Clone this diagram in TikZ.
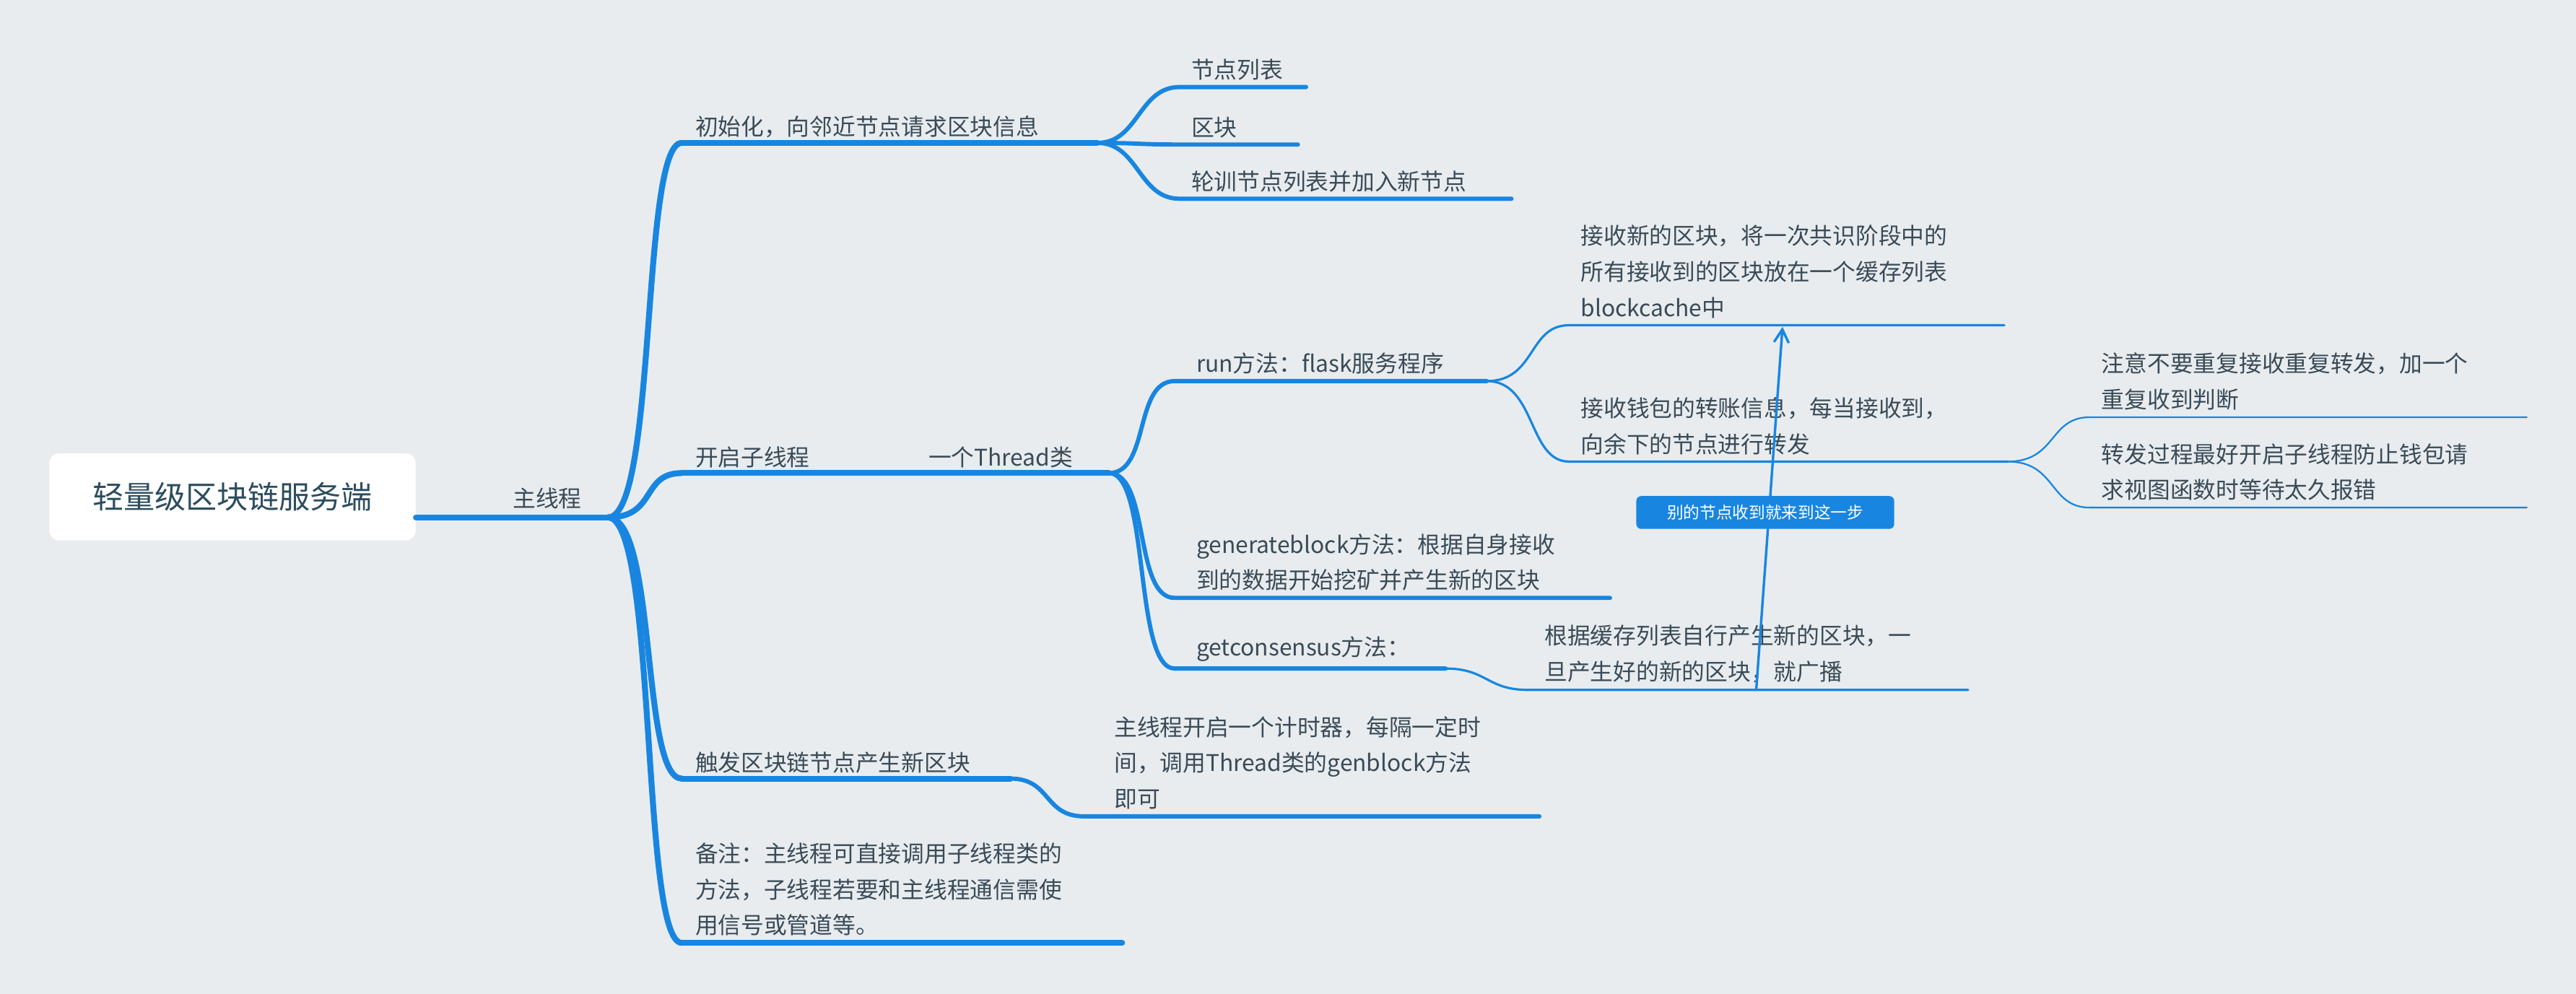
\documentclass[tikz,border=0pt]{standalone}
\usepackage{fontspec}
\usetikzlibrary{arrows.meta}
\setmainfont{Noto Sans CJK SC}
\definecolor{bg}{HTML}{E8ECEF}
\definecolor{ln}{HTML}{1886E0}
\definecolor{tx}{HTML}{3A4B57}
\definecolor{tt}{HTML}{2C4D5E}
\begin{document}
\begin{tikzpicture}[x=1bp,y=-1bp,
  lbl/.style={anchor=south west,inner sep=0pt,text=tx,align=left,font=\fontsize{14}{22}\selectfont},
  b1/.style={draw=ln,line width=3.6bp,line cap=round},
  b2/.style={draw=ln,line width=2.6bp,line cap=round},
  b3/.style={draw=ln,line width=1.4bp,line cap=round},
  b4/.style={draw=ln,line width=1bp,line cap=round}]
\fill[bg] (0,0) rectangle (1568,605);
\useasboundingbox (0,0) rectangle (1568,605);
% root
\node[fill=white,rounded corners=6bp,minimum width=223bp,minimum height=53bp,text=tt,font=\fontsize{19}{22}\selectfont] (root) at (141.5,302.5) {轻量级区块链服务端};
\coordinate (m) at (370,315);
\node[lbl] (main) at (312,310) {主线程};
\draw[b1] (root.east|-m) -- (m);
% level 1
\coordinate (a0) at (415,87);  \coordinate (a1) at (668,87);
\coordinate (c0) at (415,288); \coordinate (c1) at (675,288);
\coordinate (t0) at (415,474); \coordinate (t1) at (615,474);
\coordinate (n0) at (415,574); \coordinate (n1) at (683,574);
\foreach \p in {a0,c0,t0,n0}{
  \draw[b1] (m) .. controls +(30,0) and +(-25,0) .. (\p);}
\draw[b1] (a0)--(a1); \draw[b1] (c0)--(c1); \draw[b1] (t0)--(t1); \draw[b1] (n0)--(n1);
\node[lbl] (A) at (423,84) {初始化，向邻近节点请求区块信息};
\node[lbl] (C) at (423,285) {开启子线程};
\node[lbl] (C2) at (565,285) {一个Thread类};
\node[lbl] (T) at (423,471) {触发区块链节点产生新区块};
\node[lbl] (N) at (423,570) {备注：主线程可直接调用子线程类的\\方法，子线程若要和主线程通信需使\\用信号或管道等。};
% init children
\foreach \y/\e/\t/\nm in {53/795/节点列表/k1, 88/790/区块/k2, 121/920/轮训节点列表并加入新节点/k3}{
  \coordinate (\nm a) at (718,\y); \coordinate (\nm b) at (\e,\y);
  \draw[b2] (a1) .. controls +(25,0) and +(-25,0) .. (\nm a) -- (\nm b);
  \node[lbl] at (725,\y-4) {\t};}
% thread children
\coordinate (r0) at (715,232); \coordinate (r1) at (905,232);
\coordinate (g0) at (715,364); \coordinate (g1) at (980,364);
\coordinate (q0) at (715,407); \coordinate (q1) at (880,407);
\foreach \p/\e in {r0/r1,g0/g1,q0/q1}{
  \draw[b2] (c1) .. controls +(25,0) and +(-25,0) .. (\p) -- (\e);}
\node[lbl] (R) at (728,228) {run方法：flask服务程序};
\node[lbl] (G) at (728,360) {generateblock方法：根据自身接收\\到的数据开始挖矿并产生新的区块};
\node[lbl] (Q) at (728,403) {getconsensus方法：};
% run children
\coordinate (x0) at (955,198); \coordinate (x1) at (1220,198);
\coordinate (w0) at (955,281); \coordinate (w1) at (1222,281);
\draw[b3] (r1) .. controls +(30,0) and +(-25,0) .. (x0) -- (x1);
\draw[b3] (r1) .. controls +(30,0) and +(-25,0) .. (w0) -- (w1);
\node[lbl] (X) at (962,194) {接收新的区块，将一次共识阶段中的\\所有接收到的区块放在一个缓存列表\\blockcache中};
\node[lbl] (W) at (962,277) {接收钱包的转账信息，每当接收到，\\向余下的节点进行转发};
% wallet children
\coordinate (u0) at (1272,254); \coordinate (u1) at (1538,254);
\coordinate (v0) at (1272,309); \coordinate (v1) at (1538,309);
\draw[b4] (w1) .. controls +(30,0) and +(-25,0) .. (u0) -- (u1);
\draw[b4] (w1) .. controls +(30,0) and +(-25,0) .. (v0) -- (v1);
\node[lbl] (U) at (1279,250) {注意不要重复接收重复转发，加一个\\重复收到判断};
\node[lbl] (V) at (1279,305) {转发过程最好开启子线程防止钱包请\\求视图函数时等待太久报错};
% consensus child
\coordinate (h0) at (930,420); \coordinate (h1) at (1198,420);
\draw[b3] (q1) .. controls +(25,0) and +(-25,0) .. (h0) -- (h1);
\node[lbl] (H) at (940,416) {根据缓存列表自行产生新的区块，一\\旦产生好的新的区块，就广播};
% trigger child
\coordinate (p0) at (660,497); \coordinate (p1) at (937,497);
\draw[b2] (t1) .. controls +(25,0) and +(-25,0) .. (p0) -- (p1);
\node[lbl] (P) at (678,493) {主线程开启一个计时器，每隔一定时\\间，调用Thread类的genblock方法\\即可};
% arrow
\coordinate (ab) at (1069,420); \coordinate (at) at (1085,199);
\draw[ln,line width=1.5bp,-{Straight Barb[length=8bp,width=9bp]}] (ab) -- (at);
\node[fill=ln,rounded corners=3bp,text=white,font=\fontsize{10}{12}\selectfont,minimum width=157bp,minimum height=20bp,inner sep=0pt] (note) at (1074.5,312) {别的节点收到就来到这一步};
\end{tikzpicture}
\end{document}
